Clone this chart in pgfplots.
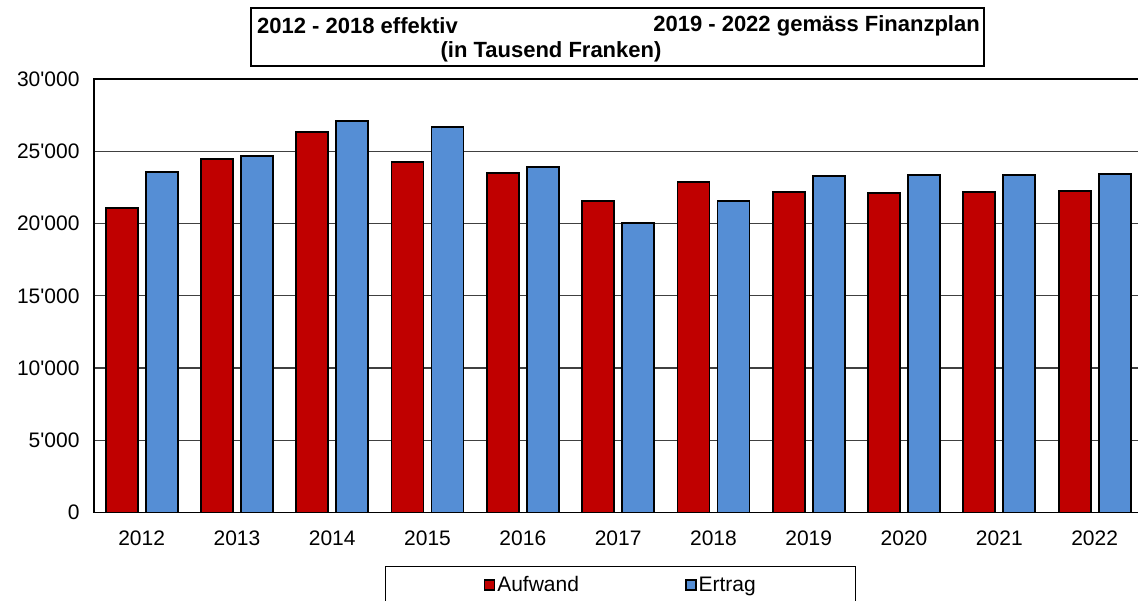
\documentclass[border=0pt]{standalone}
\usepackage{pgfplots}
\pgfplotsset{compat=1.18}
\usepackage{fontspec}
\setmainfont{Liberation Sans}[Ligatures=TeXOff]
\definecolor{aufw}{RGB}{192,0,0}
\definecolor{ertr}{RGB}{85,142,213}
\begin{document}
\begin{tikzpicture}
\useasboundingbox (0pt,0pt) rectangle (1138pt,600pt);
\begin{axis}[
  at={(94pt,87.5pt)}, anchor=south west,
  scale only axis, width=1048.3pt, height=433.2pt,
  xmin=-0.5, xmax=10.5, ymin=0, ymax=30000,
  ybar=8pt, bar width=32pt,
  xtick=data, xticklabels={2012,2013,2014,2015,2016,2017,2018,2019,2020,2021,2022},
  ytick={0,5000,10000,15000,20000,25000,30000},
  scaled y ticks=false,
  /pgf/number format/assume math mode=true,
  /pgf/number format/1000 sep={'},
  major tick length=0pt,
  tick label style={font=\fontsize{21}{25}\selectfont},
  yticklabel style={xshift=-11pt},
  xticklabel style={yshift=-15pt},
  ymajorgrids,
  grid style={draw=black!75, line width=1.2pt},
  axis line style={black, line width=1.8pt},
  legend style={at={(0.5025,-0.1235)}, anchor=north, draw=black, line width=1pt,
    inner xsep=98pt, inner ysep=8pt,
    font=\fontsize{21}{25}\selectfont,
    /tikz/every even column/.append style={column sep=104pt}},
  legend columns=2,
  legend image code/.code={\draw[#1, line width=1.5pt] (0pt,-5pt) rectangle (10pt,5pt);},
]
\addplot[draw=black, line width=1.8pt, fill=aufw] coordinates {
 (0,21110) (1,24480) (2,26350) (3,24250) (4,23490) (5,21590) (6,22890) (7,22200) (8,22100) (9,22220) (10,22260)};
\addplot[draw=black, line width=1.8pt, fill=ertr] coordinates {
 (0,23600) (1,24690) (2,27130) (3,26700) (4,23950) (5,20050) (6,21590) (7,23300) (8,23350) (9,23370) (10,23460)};
\legend{Aufwand,Ertrag}
\end{axis}
\draw[line width=1.2pt] (251pt,534pt) rectangle (984pt,592pt);
\node[anchor=west, inner sep=0pt, font=\fontsize{22}{26}\selectfont\bfseries] at (257pt,574pt) {2012 - 2018 effektiv};
\node[anchor=east, inner sep=0pt, font=\fontsize{22}{26}\selectfont\bfseries] at (980pt,574pt) {2019 - 2022 gemäss Finanzplan};
\node[inner sep=0pt, font=\fontsize{22}{26}\selectfont\bfseries] at (551pt,548pt) {(in Tausend Franken)};
\end{tikzpicture}
\end{document}
